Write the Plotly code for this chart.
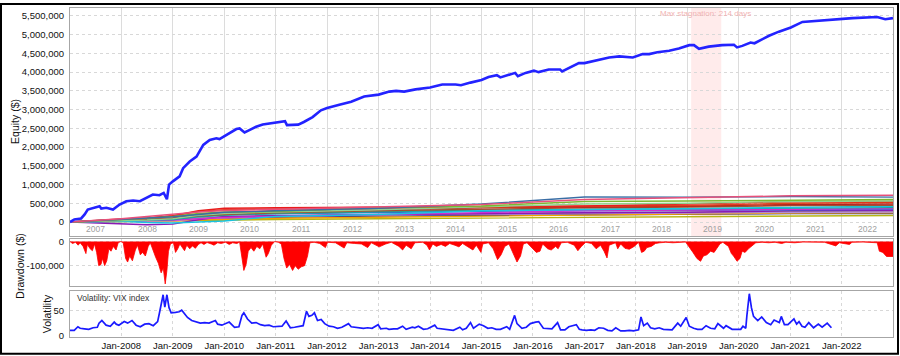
import plotly.graph_objects as go

# ---------------- DATA ----------------
year_labels = [str(y) for y in range(2007, 2023)]
bottom_tick_labels = ["Jan-%d" % y for y in range(2008, 2023)]
equity_ticks = [0, 500000, 1000000, 1500000, 2000000, 2500000, 3000000,
                3500000, 4000000, 4500000, 5000000, 5500000]
equity_tick_labels = ["0", "500,000", "1,000,000", "1,500,000", "2,000,000", "2,500,000",
                      "3,000,000", "3,500,000", "4,000,000", "4,500,000", "5,000,000", "5,500,000"]
dd_ticks = [0, -100000]
dd_tick_labels = ["0", "-100,000"]
vol_ticks = [0, 50]
vol_tick_labels = ["0", "50"]

equity_dates = ["2007-01-02", "2007-02-02", "2007-03-22", "2007-04-16", "2007-05-08", "2007-06-25",
                "2007-07-31", "2007-08-12", "2007-09-17", "2007-11-03", "2007-12-20", "2008-02-06",
                "2008-03-25", "2008-05-12", "2008-06-28", "2008-08-12", "2008-09-28", "2008-10-28",
                "2008-11-20", "2008-12-05", "2009-01-01", "2009-02-18", "2009-03-15", "2009-05-01",
                "2009-06-18", "2009-08-05", "2009-09-20", "2009-11-06", "2009-11-28", "2010-01-01",
                "2010-02-06", "2010-03-28", "2010-04-20", "2010-05-25", "2010-06-28", "2010-08-15",
                "2010-10-01", "2010-11-18", "2011-01-05", "2011-03-08", "2011-03-22", "2011-05-05",
                "2011-06-10", "2011-07-20", "2011-09-20", "2011-11-18", "2012-01-01", "2012-03-28",
                "2012-06-20", "2012-09-20", "2013-01-01", "2013-03-18", "2013-05-05", "2013-07-01",
                "2013-09-20", "2014-01-01", "2014-03-28", "2014-07-01", "2014-08-08", "2014-10-15",
                "2015-01-01", "2015-02-20", "2015-04-20", "2015-05-15", "2015-07-12", "2015-08-28",
                "2015-09-16", "2015-11-10", "2016-01-08", "2016-02-10", "2016-04-22", "2016-07-12",
                "2016-07-26", "2016-10-05", "2016-11-22", "2017-01-01", "2017-04-12", "2017-05-30",
                "2017-06-25", "2017-09-05", "2017-12-10", "2018-02-18", "2018-04-05", "2018-06-02",
                "2018-08-25", "2018-11-02", "2019-01-15", "2019-02-17", "2019-03-25", "2019-06-02",
                "2019-09-05", "2019-11-28", "2019-12-20", "2020-01-26", "2020-03-25", "2020-04-22",
                "2020-08-03", "2020-10-12", "2021-01-05", "2021-03-28", "2021-07-01", "2021-10-26",
                "2022-03-18", "2022-09-10", "2022-11-06", "2022-12-31"]
equity_values = [0, 71000, 97000, 203000, 335000, 380000,
                 424000, 362000, 380000, 335000, 468000, 556000,
                 574000, 556000, 644000, 733000, 715000, 777000,
                 610000, 1000000, 1086000, 1218000, 1439000, 1616000,
                 1748000, 2057000, 2190000, 2234000, 2216000, 2295000,
                 2366000, 2481000, 2498000, 2392000, 2454000, 2542000,
                 2604000, 2631000, 2657000, 2693000, 2587000, 2587000,
                 2600000, 2670000, 2800000, 2980000, 3040000, 3130000,
                 3210000, 3350000, 3400000, 3480000, 3500000, 3480000,
                 3540000, 3590000, 3670000, 3670000, 3650000, 3720000,
                 3790000, 3870000, 3920000, 3860000, 3930000, 3980000,
                 3890000, 3980000, 4040000, 4000000, 4070000, 4070000,
                 4020000, 4150000, 4240000, 4240000, 4320000, 4360000,
                 4390000, 4420000, 4390000, 4480000, 4480000, 4530000,
                 4570000, 4630000, 4720000, 4720000, 4620000, 4680000,
                 4720000, 4730000, 4660000, 4700000, 4790000, 4770000,
                 4970000, 5080000, 5190000, 5340000, 5370000, 5410000,
                 5440000, 5470000, 5410000, 5440000]

# component equity curves (thousands of $) at these dates
comp_dates = ["2007-01-02", "2007-07-01", "2008-01-01", "2008-07-01", "2009-01-01", "2009-07-01",
              "2010-01-01", "2011-01-01", "2013-01-01", "2015-01-01", "2017-01-01", "2019-01-01",
              "2021-01-01", "2022-12-31"]
comp_pink = [0, 40, 90, 150, 220, 270, 310, 340, 400, 470, 600, 650, 700, 715]
comp_steelblue = [0, 30, 60, 90, 140, 200, 260, 300, 370, 480, 670, 665, 680, 665]
comp_green = [0, 40, 70, 100, 150, 230, 270, 280, 390, 430, 550, 560, 590, 600]
comp_red = [0, 45, 80, 110, 170, 300, 370, 380, 400, 420, 430, 480, 540, 550]
comp_redorange = [0, 30, 60, 100, 160, 280, 330, 350, 370, 400, 420, 440, 500, 520]
comp_teal = [0, 20, 40, 50, 70, 140, 180, 230, 280, 320, 340, 350, 375, 385]
comp_blue = [0, 15, 30, 40, 60, 150, 200, 220, 250, 290, 300, 310, 330, 340]
comp_purple = [0, -20, -40, -70, -55, 60, 150, 170, 200, 220, 250, 260, 300, 310]
comp_lavender = [0, 10, 20, 25, 35, 90, 120, 160, 190, 220, 230, 240, 260, 270]
comp_orange = [0, 5, 10, 15, 25, 60, 80, 100, 130, 160, 200, 210, 240, 245]
comp_olive = [0, 10, 20, 30, 40, 50, 60, 70, 90, 110, 130, 140, 170, 175]
comp_cyan = [0, 10, 20, -10, -25, 0, 30, 150, 200, 300, 330, 360, 400, 420]
comp_darkred = [0, 25, 50, 70, 100, 200, 250, 300, 330, 380, 400, 420, 470, 480]
comp_gray = [0, 15, 30, 45, 65, 110, 140, 160, 200, 230, 250, 270, 290, 300]
comp_magenta = [0, 10, 20, 35, 55, 90, 120, 150, 200, 260, 300, 320, 350, 360]
comp_brown = [0, 20, 40, 70, 110, 170, 200, 250, 300, 350, 380, 400, 440, 450]
comp_lightgreen = [0, 15, 30, 55, 90, 180, 230, 270, 330, 400, 480, 500, 550, 560]
comp_navy = [0, 8, 15, 25, 45, 80, 100, 130, 160, 180, 200, 210, 225, 230]

# drawdown (thousands of $)
dd_dates = ["2007-01-02", "2007-01-20", "2007-02-10", "2007-03-01", "2007-03-15", "2007-04-05", "2007-04-25",
            "2007-05-05", "2007-05-25", "2007-06-10", "2007-06-25", "2007-07-10", "2007-07-25", "2007-08-10",
            "2007-08-20", "2007-09-05", "2007-09-20", "2007-10-05", "2007-10-20", "2007-11-05", "2007-11-25",
            "2007-12-10", "2007-12-28", "2008-01-15", "2008-02-01", "2008-02-15", "2008-03-01", "2008-03-20",
            "2008-04-10", "2008-04-25", "2008-05-15", "2008-06-01", "2008-06-20", "2008-07-10", "2008-07-25",
            "2008-08-15", "2008-09-01", "2008-09-20", "2008-10-10", "2008-10-25", "2008-11-08", "2008-11-20",
            "2008-12-01", "2008-12-15", "2009-01-05", "2009-01-20", "2009-02-05", "2009-02-20", "2009-03-10",
            "2009-03-25", "2009-04-10", "2009-05-01", "2009-05-20", "2009-06-10", "2009-07-01", "2009-07-20",
            "2009-08-10", "2009-09-01", "2009-10-01", "2009-10-20", "2009-11-15", "2009-12-10", "2010-01-10",
            "2010-02-05", "2010-03-01", "2010-04-01", "2010-04-20", "2010-05-05", "2010-05-20", "2010-06-05",
            "2010-06-20", "2010-07-10", "2010-07-30", "2010-08-20", "2010-09-10", "2010-10-01", "2010-10-25",
            "2010-11-10", "2010-12-01", "2010-12-25", "2011-01-20", "2011-02-10", "2011-03-01", "2011-03-20",
            "2011-04-10", "2011-05-01", "2011-05-20", "2011-06-10", "2011-07-01", "2011-07-25", "2011-08-15",
            "2011-09-01", "2011-10-01", "2011-11-10", "2011-12-20", "2012-01-05", "2012-03-01", "2012-05-01",
            "2012-05-20", "2012-07-15", "2012-09-01", "2012-10-15", "2012-11-10", "2013-01-05", "2013-02-20",
            "2013-04-01", "2013-05-25", "2013-06-20", "2013-07-15", "2013-08-20", "2013-09-15", "2013-11-10",
            "2013-12-10", "2013-12-28", "2014-01-20", "2014-02-15", "2014-03-20", "2014-04-20", "2014-05-20",
            "2014-06-25", "2014-07-25", "2014-08-20", "2014-10-10", "2014-11-01", "2014-11-25", "2014-12-28",
            "2015-01-10", "2015-02-20", "2015-03-25", "2015-04-25", "2015-05-20", "2015-06-15", "2015-07-15",
            "2015-08-25", "2015-09-10", "2015-10-05", "2015-10-25", "2015-11-20", "2015-12-25", "2016-01-25",
            "2016-02-20", "2016-03-10", "2016-04-15", "2016-05-10", "2016-06-10", "2016-06-28", "2016-07-20",
            "2016-09-01", "2016-10-20", "2016-11-15", "2016-12-10", "2017-01-10", "2017-02-20", "2017-03-25",
            "2017-04-25", "2017-05-20", "2017-06-10", "2017-06-25", "2017-08-10", "2017-08-25", "2017-09-15",
            "2017-10-15", "2017-11-15", "2017-12-20", "2018-01-20", "2018-02-10", "2018-03-01", "2018-03-20",
            "2018-04-20", "2018-05-20", "2018-06-20", "2018-08-01", "2018-09-20", "2018-11-01", "2018-12-20",
            "2019-02-10", "2019-03-10", "2019-04-05", "2019-04-25", "2019-05-20", "2019-06-15", "2019-07-10",
            "2019-08-01", "2019-08-20", "2019-09-10", "2019-10-20", "2019-11-10", "2019-11-25", "2019-12-20",
            "2020-01-10", "2020-01-25", "2020-02-15", "2020-03-10", "2020-04-01", "2020-05-01", "2020-06-15",
            "2020-08-01", "2020-09-15", "2020-11-01", "2020-12-01", "2021-02-01", "2021-04-01", "2021-06-01",
            "2021-09-01", "2021-11-20", "2021-12-15", "2022-02-25", "2022-03-15", "2022-06-01", "2022-09-10",
            "2022-09-25", "2022-10-20", "2022-11-15", "2022-12-31"]
dd_k = [0, -8, -3, -15, -5, -20, -50,
        -12, -30, -38, -10, -45, -100, -95,
        -70, -100, -80, -30, -40, -20, -35,
        -5, 0, -5, -70, -85, -60, -80,
        -35, -15, -55, -45, -60, -20, -5,
        -40, -65, -90, -130, -110, -176, -120,
        -40, -10, -5, -45, -30, -10, -25,
        -38, -15, -30, -18, -28, -12, -5,
        -12, -4, -10, -15, -5, -8, -3,
        -12, -5, -8, -2, -60, -120, -95,
        -40, -25, -40, -20, -30, -10, -65,
        -50, -15, 0, -3, -10, -70, -110,
        -95, -120, -100, -115, -105, -100, -60,
        -5, -3, -8, -25, -3, -5, -27,
        -5, -8, -10, -25, -5, -22, -10,
        -3, -20, -35, -15, -30, -5, -3,
        -15, -35, -10, -20, -12, -20, -8,
        -15, -22, -8, -25, -35, -15, -45,
        -10, -5, -30, -75, -55, -20, -10,
        -65, -85, -60, -10, -5, -25, -45,
        -40, -10, -30, -35, -20, -30, -5,
        -3, -15, -38, -20, -3, -8, -30,
        -15, -40, -68, -15, -5, -30, -10,
        -28, -32, -20, -3, -45, -40, -25,
        -20, -8, -5, -3, -5, -3, -2,
        -45, -70, -82, -60, -55, -40, -45,
        -25, -10, -3, -20, -50, -60, -82,
        -70, -40, -45, -30, -20, -5, -3,
        -5, -3, -8, -3, -5, -2, -3,
        -3, -18, -5, -12, -3, -2, -5,
        -40, -45, -62, -62]

# VIX index
vix_dates = ["2007-01-02", "2007-02-01", "2007-02-27", "2007-03-15", "2007-04-15", "2007-05-15", "2007-06-15",
             "2007-07-15", "2007-07-27", "2007-08-16", "2007-09-15", "2007-10-15", "2007-11-12", "2007-11-26",
             "2007-12-15", "2008-01-22", "2008-02-15", "2008-03-17", "2008-04-15", "2008-05-15", "2008-06-15",
             "2008-07-15", "2008-08-15", "2008-09-15", "2008-09-29", "2008-10-10", "2008-10-24", "2008-11-05",
             "2008-11-20", "2008-12-05", "2008-12-20", "2009-01-20", "2009-02-15", "2009-03-05", "2009-03-25",
             "2009-04-15", "2009-05-15", "2009-06-15", "2009-07-15", "2009-08-15", "2009-09-15", "2009-10-30",
             "2009-11-15", "2009-12-15", "2010-01-15", "2010-02-05", "2010-03-15", "2010-04-15", "2010-05-07",
             "2010-05-20", "2010-06-15", "2010-07-15", "2010-08-15", "2010-09-15", "2010-10-15", "2010-11-15",
             "2010-12-15", "2011-01-15", "2011-02-15", "2011-03-16", "2011-04-15", "2011-05-15", "2011-06-15",
             "2011-07-15", "2011-08-08", "2011-08-25", "2011-09-15", "2011-10-03", "2011-10-25", "2011-11-20",
             "2011-12-15", "2012-01-15", "2012-02-15", "2012-03-15", "2012-04-15", "2012-06-01", "2012-06-20",
             "2012-07-15", "2012-08-15", "2012-09-15", "2012-10-15", "2012-11-15", "2012-12-28", "2013-01-15",
             "2013-02-25", "2013-03-15", "2013-04-18", "2013-05-15", "2013-06-20", "2013-07-15", "2013-08-28",
             "2013-09-15", "2013-10-10", "2013-11-15", "2013-12-15", "2014-02-03", "2014-02-20", "2014-03-15",
             "2014-04-15", "2014-05-15", "2014-06-15", "2014-07-31", "2014-08-20", "2014-09-15", "2014-10-15",
             "2014-11-05", "2014-12-16", "2015-01-15", "2015-02-15", "2015-03-15", "2015-04-15", "2015-05-15",
             "2015-06-29", "2015-07-20", "2015-08-24", "2015-09-10", "2015-10-15", "2015-11-15", "2015-12-14",
             "2016-01-20", "2016-02-11", "2016-03-15", "2016-04-15", "2016-05-15", "2016-06-24", "2016-07-15",
             "2016-08-15", "2016-09-12", "2016-11-04", "2016-11-25", "2016-12-15", "2017-01-15", "2017-02-15",
             "2017-03-15", "2017-04-13", "2017-05-17", "2017-06-15", "2017-07-15", "2017-08-11", "2017-09-15",
             "2017-10-15", "2017-11-15", "2017-12-15", "2018-01-20", "2018-02-06", "2018-02-25", "2018-03-23",
             "2018-04-15", "2018-05-15", "2018-06-15", "2018-07-15", "2018-08-15", "2018-09-15", "2018-10-25",
             "2018-11-15", "2018-12-24", "2019-01-15", "2019-02-15", "2019-03-15", "2019-04-15", "2019-05-14",
             "2019-06-15", "2019-07-15", "2019-08-06", "2019-09-15", "2019-10-03", "2019-11-15", "2019-12-15",
             "2020-01-15", "2020-01-31", "2020-02-20", "2020-02-28", "2020-03-16", "2020-03-31", "2020-04-15",
             "2020-05-15", "2020-06-12", "2020-07-15", "2020-08-15", "2020-09-08", "2020-10-15", "2020-10-29",
             "2020-11-20", "2020-12-15", "2021-01-27", "2021-02-15", "2021-03-04", "2021-03-25", "2021-04-15",
             "2021-05-12", "2021-06-15", "2021-07-19", "2021-08-15", "2021-09-20", "2021-10-05", "2021-10-20"]
vix_values = [11, 11, 18, 15, 14, 13, 16,
              17, 25, 30, 21, 19, 27, 23,
              21, 28, 25, 30, 21, 18, 23,
              24, 20, 28, 46, 64, 80, 56,
              80, 55, 45, 46, 47, 50, 42,
              36, 30, 27, 25, 26, 25, 30,
              23, 21, 24, 27, 17, 18, 40,
              45, 33, 25, 26, 22, 20, 21,
              18, 18, 19, 29, 16, 17, 19,
              20, 48, 38, 40, 45, 30, 32,
              24, 19, 18, 15, 17, 24, 18,
              17, 16, 15, 16, 15, 22, 14,
              15, 13, 14, 14, 19, 13, 17,
              16, 19, 13, 14, 21, 15, 14,
              13, 12, 11, 17, 12, 15, 26,
              15, 23, 20, 15, 16, 13, 13,
              18, 13, 40, 24, 15, 17, 24,
              27, 28, 15, 14, 14, 26, 12,
              12, 18, 22, 13, 12, 11, 12,
              11, 16, 15, 11, 10, 16, 10,
              10, 11, 10, 12, 37, 20, 25,
              16, 14, 16, 13, 13, 12, 25,
              19, 36, 19, 15, 13, 13, 20,
              15, 14, 24, 15, 20, 13, 13,
              13, 19, 15, 40, 82, 55, 38,
              30, 37, 26, 22, 31, 26, 38,
              22, 22, 33, 23, 28, 19, 17,
              26, 16, 23, 17, 25, 20, 16]

# ---------------- LAYOUT HELPERS ----------------
W, H = 900, 356
L, R, T, B = 70, 7, 5, 19
PW, PH = W - L - R, H - T - B


def px_x(px):
    return (px - L) / PW


def px_y(py):
    return (H - B - py) / PH


X_RANGE = ["2007-01-02", "2022-12-31"]
year_ticks = ["%d-01-01" % y for y in range(2008, 2023)]
FONT = "Liberation Sans, Arial, sans-serif"

fig = go.Figure()

components = [
    (comp_navy, "#283593"), (comp_olive, "#b5b513"), (comp_orange, "#f5a000"),
    (comp_lavender, "#b48fd8"), (comp_gray, "#9a9a9a"), (comp_purple, "#8a1ab5"),
    (comp_blue, "#2f6fd1"), (comp_magenta, "#d12fd1"), (comp_teal, "#1aa3a3"),
    (comp_cyan, "#19c3e0"), (comp_brown, "#a0522d"), (comp_darkred, "#b22222"),
    (comp_redorange, "#e0401a"), (comp_red, "#e81c1c"), (comp_lightgreen, "#8fd18f"),
    (comp_green, "#7cb82f"), (comp_steelblue, "#3a6ea5"), (comp_pink, "#e8507a"),
]
for vals, col in components:
    fig.add_trace(go.Scatter(x=comp_dates, y=[v * 1000 for v in vals], mode="lines",
                             line=dict(color=col, width=1.4), xaxis="x", yaxis="y",
                             showlegend=False, hoverinfo="skip"))

fig.add_trace(go.Scatter(x=equity_dates, y=equity_values, mode="lines",
                         line=dict(color="#2323ff", width=2.6), xaxis="x", yaxis="y",
                         showlegend=False))

fig.add_trace(go.Scatter(x=dd_dates, y=[v * 1000 for v in dd_k], mode="lines",
                         fill="tozeroy", fillcolor="#ff0000",
                         line=dict(color="#ff0000", width=0.8), xaxis="x2", yaxis="y2",
                         showlegend=False))

fig.add_trace(go.Scatter(x=vix_dates, y=vix_values, mode="lines",
                         line=dict(color="#1a1aff", width=1.7), xaxis="x3", yaxis="y3",
                         showlegend=False))

frame = dict(showline=True, mirror=True, linecolor="#a6a6a6", linewidth=1)
common_x = dict(type="date", range=X_RANGE, tickvals=year_ticks, showgrid=True,
                zeroline=False, **frame)

fig.update_layout(
    width=W, height=H,
    margin=dict(l=L, r=R, t=T, b=B),
    paper_bgcolor="white", plot_bgcolor="white",
    font=dict(family=FONT, size=9, color="#222"),
    xaxis=dict(domain=[0, 1], anchor="y", showticklabels=False, gridcolor="#dcdcdc",
               griddash="solid", **common_x),
    xaxis2=dict(domain=[0, 1], anchor="y2", showticklabels=False, gridcolor="#d8d8d8",
                griddash="dot", **common_x),
    xaxis3=dict(domain=[0, 1], anchor="y3", showticklabels=True, ticktext=bottom_tick_labels,
                gridcolor="#d8d8d8", griddash="dot", tickfont=dict(size=9.5, color="#111"),
                **common_x),
    yaxis=dict(domain=[px_y(235), 1], range=[-370000, 5711000], tickvals=equity_ticks,
               ticktext=equity_tick_labels, showgrid=True, gridcolor="#d8d8d8", griddash="dot",
               zeroline=False, ticks="outside", ticklen=3, tickcolor="rgba(0,0,0,0)",
               tickfont=dict(size=9.5, color="#111"), **frame),
    yaxis2=dict(domain=[px_y(286), px_y(238)], range=[-186400, 11100], tickvals=dd_ticks,
                ticktext=dd_tick_labels, showgrid=True, gridcolor="#d8d8d8", griddash="dot",
                zeroline=False, ticks="outside", ticklen=3, tickcolor="rgba(0,0,0,0)",
                tickfont=dict(size=9.5, color="#111"), **frame),
    yaxis3=dict(domain=[0, px_y(291)], range=[-1.92, 86.5], tickvals=vol_ticks,
                ticktext=vol_tick_labels, showgrid=True, gridcolor="#d8d8d8", griddash="dot",
                zeroline=False, ticks="outside", ticklen=3, tickcolor="rgba(0,0,0,0)",
                tickfont=dict(size=9.5, color="#111"), **frame),
)

# max stagnation band
fig.add_shape(type="rect", xref="x", yref="paper", x0="2019-01-28", x1="2019-08-30",
              y0=px_y(235), y1=1, fillcolor="rgba(255,0,0,0.08)", line=dict(width=0),
              layer="below")

annotations = []
for yl in year_labels:
    annotations.append(dict(x="%s-07-02" % yl, y=-190000, xref="x", yref="y", text=yl,
                            showarrow=False, font=dict(size=8.5, color="#a0a0a0"),
                            xanchor="center", yanchor="middle"))
annotations.append(dict(x="2019-05-08", y=px_y(11), xref="x", yref="paper",
                        text="Max stagnation: 214 days", showarrow=False,
                        font=dict(size=8, color="#f2b3b3"), xanchor="center", yanchor="middle"))
annotations.append(dict(x=px_x(75), y=px_y(298), xref="paper", yref="paper",
                        text="Volatility: VIX index", showarrow=False,
                        font=dict(size=8.5, color="#333"), xanchor="left", yanchor="middle"))
annotations.append(dict(x=px_x(15), y=px_y(120), xref="paper", yref="paper", text="Equity ($)",
                        textangle=-90, showarrow=False, font=dict(size=10.5, color="#111"),
                        xanchor="center", yanchor="middle"))
annotations.append(dict(x=px_x(20), y=px_y(266), xref="paper", yref="paper", text="Drawdown ($)",
                        textangle=-90, showarrow=False, font=dict(size=10.5, color="#111"),
                        xanchor="center", yanchor="middle"))
annotations.append(dict(x=px_x(47), y=px_y(314), xref="paper", yref="paper", text="Volatility",
                        textangle=-90, showarrow=False, font=dict(size=10.5, color="#111"),
                        xanchor="center", yanchor="middle"))
fig.update_layout(annotations=annotations)

# outer black frame
fig.add_shape(type="rect", xref="paper", yref="paper", x0=px_x(1), x1=px_x(898),
              y0=px_y(354), y1=px_y(1), line=dict(color="black", width=2),
              fillcolor="rgba(0,0,0,0)", layer="above")

fig.write_html("out.html", config={"displayModeBar": False},
               post_script="document.body.style.margin='0';document.body.style.overflow='hidden';")
